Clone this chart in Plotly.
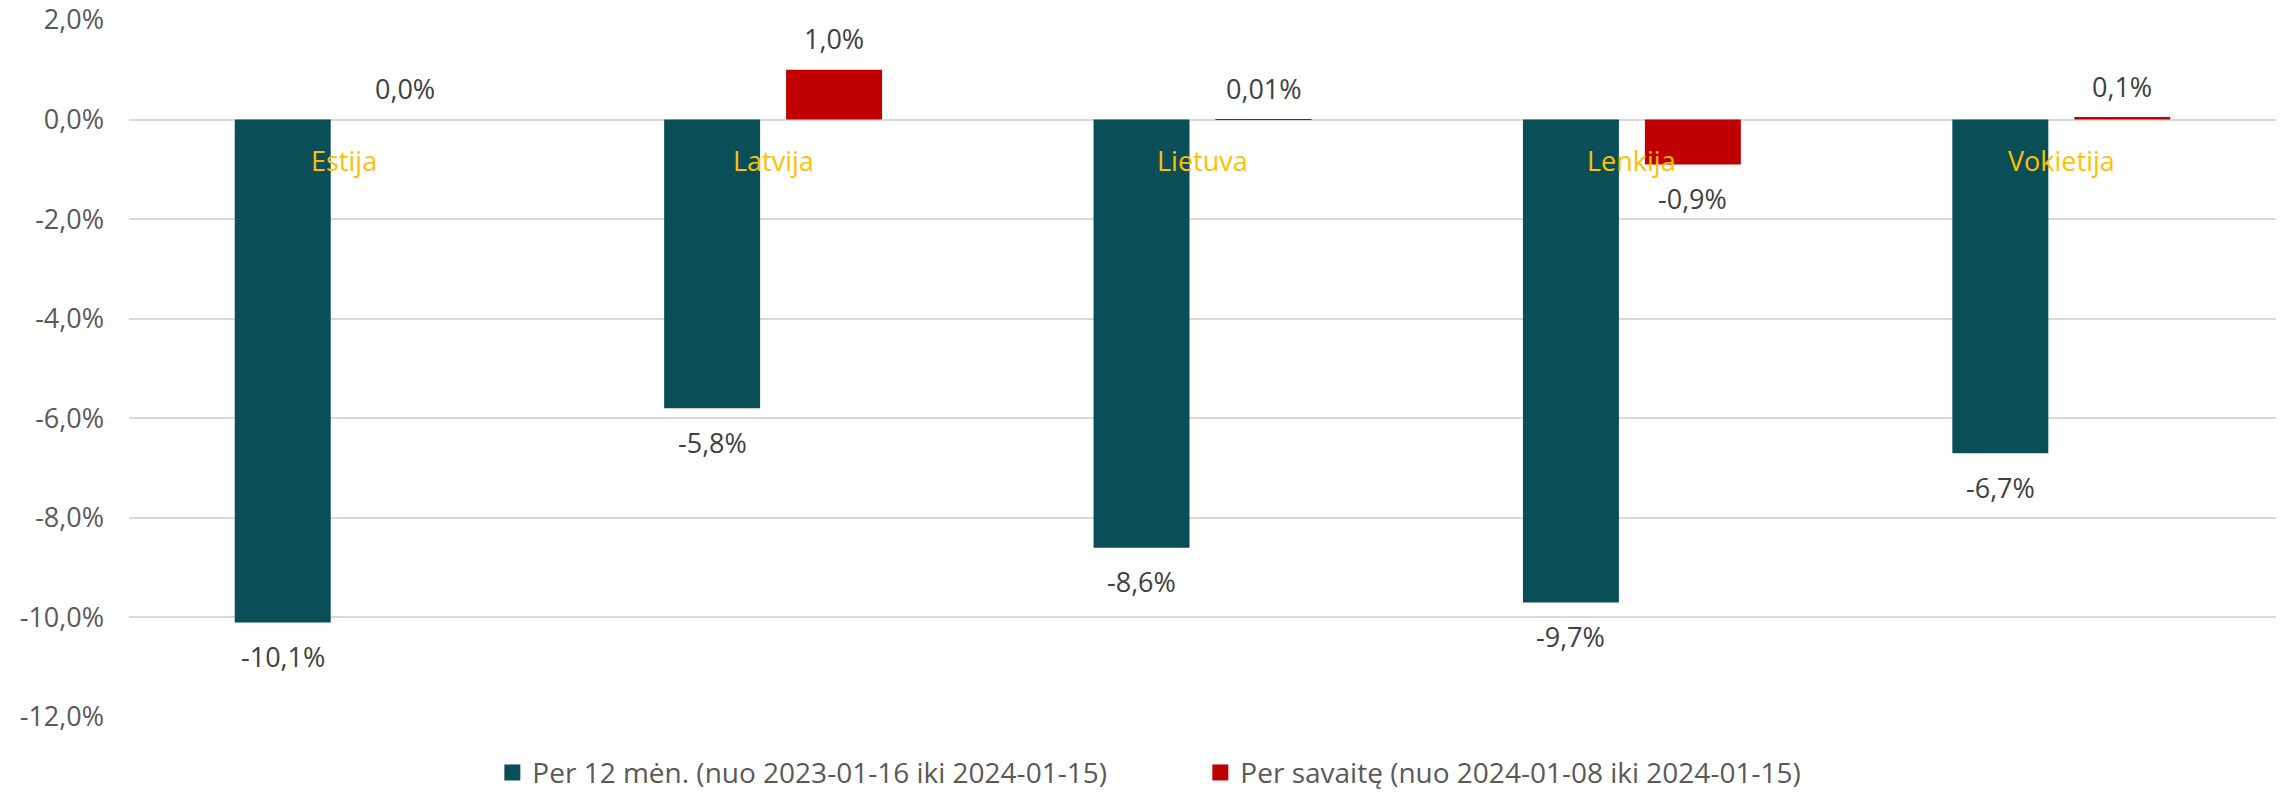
import plotly.graph_objects as go

categories = ["Estija", "Latvija", "Lietuva", "Lenkija", "Vokietija"]
series_names = ["Per 12 mėn. (nuo 2023-01-16 iki 2024-01-15)",
                "Per savaitę (nuo 2024-01-08 iki 2024-01-15)"]
year_values = [-10.1, -5.8, -8.6, -9.7, -6.7]
week_values = [0.0, 1.0, 0.01, -0.9, 0.05]
year_labels = ["-10,1%", "-5,8%", "-8,6%", "-9,7%", "-6,7%"]
week_labels = ["0,0%", "1,0%", "0,01%", "-0,9%", "0,1%"]
y_ticks = [2, 0, -2, -4, -6, -8, -10, -12]
y_tick_labels = ["2,0%", "0,0%", "-2,0%", "-4,0%", "-6,0%", "-8,0%", "-10,0%", "-12,0%"]

TEAL = "#0A4F57"
RED = "#C00000"
GOLD = "#FFC000"
FONT = "Open Sans"
colors = [TEAL, RED]

fig = go.Figure()
fig.add_trace(go.Bar(x=categories, y=year_values, name=series_names[0], showlegend=False,
                     marker=dict(color=TEAL, line=dict(width=0))))
fig.add_trace(go.Bar(x=categories, y=week_values, name=series_names[1], showlegend=False,
                     marker=dict(color=RED, line=dict(width=0))))
# legend entries with larger square keys
for name, c in zip(series_names, colors):
    fig.add_trace(go.Scatter(x=[None], y=[None], mode="markers", name=name,
                             marker=dict(symbol="square", size=18, color=c)))

annotations = []
for cat, v, t in zip(categories, year_values, year_labels):
    annotations.append(dict(x=cat, y=v, xref="x", yref="y", text=t, showarrow=False,
                            xshift=-61, yshift=(32 if v >= 0 else -34),
                            font=dict(family=FONT, size=27, color="#404040")))
for cat, v, t in zip(categories, week_values, week_labels):
    annotations.append(dict(x=cat, y=v, xref="x", yref="y", text=t, showarrow=False,
                            xshift=61, yshift=(31 if v >= 0 else -34),
                            font=dict(family=FONT, size=27, color="#404040")))
for cat in categories:
    annotations.append(dict(x=cat, y=0, xref="x", yref="y", text=cat, showarrow=False,
                            yshift=-41, font=dict(family=FONT, size=27, color=GOLD)))

fig.update_layout(
    width=2280, height=793,
    margin=dict(l=129, r=4, t=20, b=76, autoexpand=False),
    plot_bgcolor="white", paper_bgcolor="white",
    barmode="group", bargap=0.432, bargroupgap=0.213,
    font=dict(family=FONT, size=27, color="#595959"),
    showlegend=True,
    legend=dict(orientation="h", x=0.499, xanchor="center", y=-0.08, yanchor="middle",
                font=dict(family=FONT, size=28, color="#595959"),
                itemwidth=30, entrywidth=663,
                bgcolor="rgba(0,0,0,0)"),
    annotations=annotations,
)
fig.update_xaxes(showticklabels=False, showgrid=False, zeroline=False, showline=False,
                 ticks="", automargin=False)
fig.update_yaxes(range=[-12, 2], tickvals=y_ticks, ticktext=y_tick_labels,
                 showgrid=True, gridcolor="#D9D9D9", gridwidth=2,
                 zeroline=True, zerolinecolor="#D9D9D9", zerolinewidth=2,
                 showline=False, ticks="", ticklabelstandoff=24, automargin=False,
                 tickfont=dict(family=FONT, size=27, color="#595959"))

fig.write_html("out.html", config={"displayModeBar": False},
               post_script="document.body.style.margin='0px';")
